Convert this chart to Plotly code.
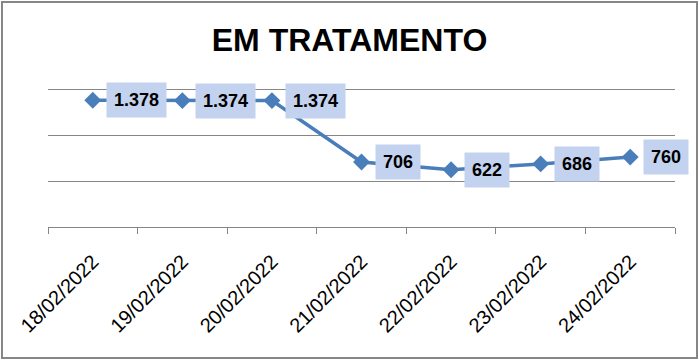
import plotly.graph_objects as go

dates = ["18/02/2022", "19/02/2022", "20/02/2022", "21/02/2022",
         "22/02/2022", "23/02/2022", "24/02/2022"]
values = [1378, 1374, 1374, 706, 622, 686, 760]
labels = ["1.378", "1.374", "1.374", "706", "622", "686", "760"]

W, H = 699, 361
ML, MR, MT, MB = 48, 24, 87, 134
PW, PH = W - ML - MR, H - MT - MB

fig = go.Figure()
fig.add_trace(go.Scatter(
    x=dates, y=values, mode="lines+markers",
    line=dict(color="#4A7EBB", width=3.5),
    marker=dict(symbol="diamond", size=13, color="#4A7EBB",
                line=dict(width=0)),
    hoverinfo="skip", showlegend=False, cliponaxis=False,
))

for d, v, t in zip(dates, values, labels):
    fig.add_annotation(
        x=d, y=v, text=t, showarrow=False, xanchor="left", yanchor="middle",
        xshift=13, bgcolor="#C3D2EE", borderpad=7,
        font=dict(family="Liberation Sans", size=18, color="#000000",
                  weight="bold"),
    )

# chart outer frame
fig.add_shape(type="rect", xref="paper", yref="paper",
              x0=(2 - ML) / PW, x1=(697 - ML) / PW,
              y0=-(358 - (MT + PH)) / PH, y1=1 + (MT - 2) / PH,
              line=dict(color="#868686", width=2), fillcolor="rgba(0,0,0,0)",
              layer="below")

fig.update_layout(
    width=W, height=H,
    margin=dict(l=ML, r=MR, t=MT, b=MB, autoexpand=False),
    paper_bgcolor="#FFFFFF", plot_bgcolor="#FFFFFF",
    title=dict(text="<b>EM TRATAMENTO</b>", x=0.5, xref="container",
               xanchor="center", y=1 - 40 / H, yref="container",
               yanchor="middle",
               font=dict(family="Liberation Sans", size=32, color="#000000")),
    xaxis=dict(type="category", range=[-0.5, len(dates) - 0.5],
               showgrid=False, showline=True,
               linecolor="#868686", linewidth=1, ticks="outside",
               tickson="boundaries", ticklen=6, tickcolor="#868686",
               tickangle=-45, ticklabelstandoff=14, automargin=False,
               tickfont=dict(family="Liberation Sans", size=20,
                             color="#000000"),
               fixedrange=True),
    yaxis=dict(range=[0, 1522], tickvals=[500, 1000, 1500], showgrid=True,
               gridcolor="#868686", gridwidth=1, showticklabels=False,
               zeroline=False, showline=False, ticks="", automargin=False,
               fixedrange=True),
)

fig.write_html("out.html", config={"displayModeBar": False},
               post_script="document.body.style.margin='0px';")
